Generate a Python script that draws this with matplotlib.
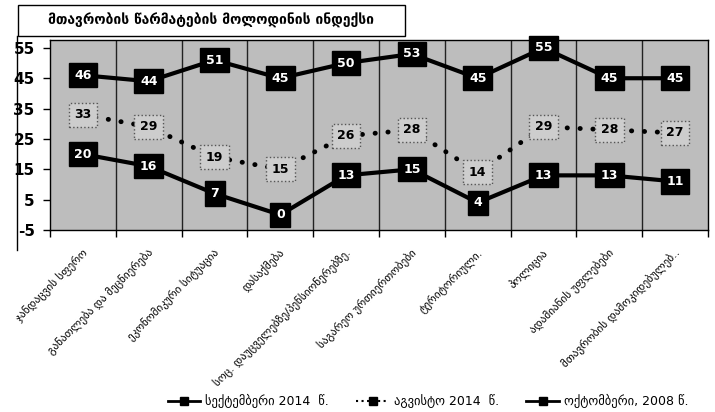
import matplotlib.pyplot as plt
import numpy as np
from matplotlib.lines import Line2D
from matplotlib.patches import Rectangle

plt.rcParams['font.family'] = ['DejaVu Sans']

title = 'მთავრობის წარმატების მოლოდინის ინდექსი'
categories = ['ჯანდაცვის სფერო',
              'განათლება და მეცნიერება',
              'ეკონომიკური სიტუაცია',
              'დასაქმება',
              'სოც. დაუცველებზე/პენსიონერებზე.',
              'საგარეო ურთიერთობები',
              'ტერიტორიული.',
              'პოლიცია',
              'ადამიანის უფლებები',
              'მთავრობის დამოკიდებულებ..']
sep_2014 = [46, 44, 51, 45, 50, 53, 45, 55, 45, 45]
aug_2014 = [33, 29, 19, 15, 26, 28, 14, 29, 28, 27]
oct_2008 = [20, 16, 7, 0, 13, 15, 4, 13, 13, 11]
series_names = ['სექტემბერი 2014  წ.', 'აგვისტო 2014  წ.', 'ოქტომბერი, 2008 წ.']
yticks = [-5, 5, 15, 25, 35, 45, 55]

fig = plt.figure(figsize=(7.15, 4.12), dpi=100)
ax = fig.add_axes([50/715, 1-230/412, 658/715, 190/412])
ax.set_facecolor('#bdbdbd')

x = np.arange(len(categories))
ax.plot(x, sep_2014, color='black', lw=3, zorder=3)
ax.plot(x, oct_2008, color='black', lw=3, zorder=3)
ax.plot(x, aug_2014, color='black', lw=3.5, linestyle=(0, (0.05, 2.6)),
        dash_capstyle='round', zorder=3)

for xi, v in zip(x, sep_2014):
    ax.text(xi, v, str(v), ha='center', va='center', color='white', fontsize=9,
            fontweight='bold', zorder=5,
            bbox=dict(boxstyle='square,pad=0.45', fc='black', ec='black'))
for xi, v in zip(x, oct_2008):
    ax.text(xi, v, str(v), ha='center', va='center', color='white', fontsize=9,
            fontweight='bold', zorder=5,
            bbox=dict(boxstyle='square,pad=0.45', fc='black', ec='black'))
for xi, v in zip(x, aug_2014):
    ax.text(xi, v, str(v), ha='center', va='center', color='black', fontsize=9,
            fontweight='bold', zorder=5,
            bbox=dict(boxstyle='square,pad=0.45', fc='#cdcdcd', ec='#555555',
                      ls=':', lw=1))

ax.set_xlim(-0.5, len(categories) - 0.5)
ax.set_ylim(-5, 57.6)
ax.set_yticks(yticks)
ax.set_yticklabels([str(t) for t in yticks], fontsize=11, fontweight='bold')
ax.tick_params(axis='y', direction='out', length=5, width=1, pad=6)

bounds = np.arange(len(categories) + 1) - 0.5
ax.set_xticks(bounds)
ax.set_xticklabels([])
ax.tick_params(axis='x', direction='out', length=5, width=1)
for b in bounds[1:-1]:
    ax.axvline(b, color='#222222', lw=1, zorder=1)
for s in ax.spines.values():
    s.set_color('black')
    s.set_linewidth(1)

for xi, lab in zip(x, categories):
    ax.annotate(lab, xy=(xi, -5), xycoords='data', xytext=(-1, -12),
                textcoords='offset points', rotation=45, ha='right', va='top',
                rotation_mode='anchor', fontsize=8)

# title box
fig.patches.append(Rectangle((18/715, 1-36/412), 387/715, 31/412,
                             transform=fig.transFigure, fc='white', ec='black',
                             lw=1, zorder=10))
fig.text(211/715, 1-20/412, title, ha='center', va='center', fontsize=10,
         fontweight='bold', zorder=11)
fig.add_artist(Line2D([17/715, 17/715], [1-36/412, 1-250/412], color='black',
                      lw=1, transform=fig.transFigure))

handles = [Line2D([], [], color='black', lw=2, marker='s', markersize=6),
           Line2D([], [], color='black', lw=1.5, linestyle=':', marker='s', markersize=6),
           Line2D([], [], color='black', lw=2, marker='s', markersize=6)]
fig.legend(handles, series_names, loc='center', bbox_to_anchor=(428/715, 1-401/412),
           ncol=3, frameon=False, fontsize=9, handlelength=2.6, columnspacing=2.2,
           handletextpad=0.4)

fig.savefig('out.png', dpi=100, facecolor='white')
